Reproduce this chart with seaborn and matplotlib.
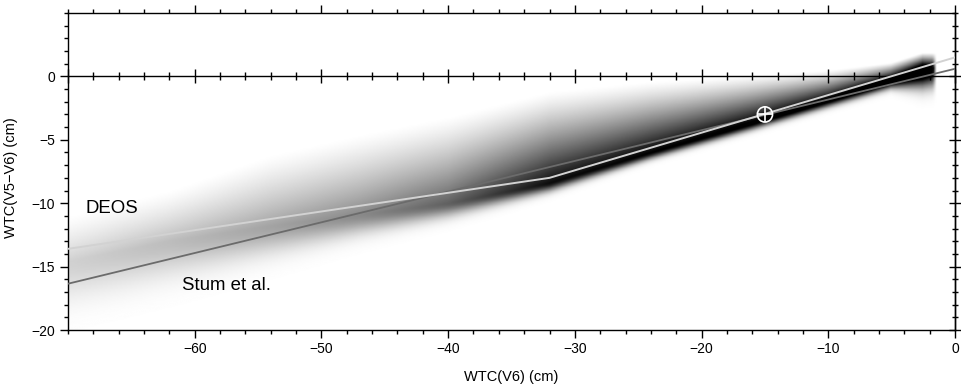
import numpy as np
import matplotlib
matplotlib.use("Agg")
import matplotlib.pyplot as plt
from matplotlib.ticker import MultipleLocator, FixedLocator
import seaborn as sns

# ---------------- data ----------------
# density cloud, described column-wise at knots along WTC(V6)
cloud_x     = [-70, -62, -54, -47, -40, -32, -24, -16, -10, -5, -2.5, -1.5]
cloud_top   = [-11.0, -9.0, -6.2, -4.6, -3.2, -1.2, -0.4, 0.1, 0.5, 1.1, 1.9, 1.9]
cloud_ridge = [-14.6, -13.0, -11.8, -10.9, -10.0, -8.4, -6.0, -3.7, -1.9, -0.3, 0.6, 0.7]
cloud_sig   = [2.0, 1.8, 1.4, 1.0, 0.7, 0.45, 0.35, 0.35, 0.35, 0.4, 0.9, 0.9]
cloud_peak  = [0.18, 0.26, 0.36, 0.46, 0.62, 0.95, 1.0, 1.05, 1.1, 1.3, 1.5, 1.2]
cloud_end   = -1.4

# model lines
deos_x = [-70, -32, 0]
deos_y = [-13.6, -8.0, 1.5]
stum_x = [-70, 0]
stum_y = [-16.35, 0.6]

# reference point
ref_x = [-15]
ref_y = [-3]

x_major = [-60, -50, -40, -30, -20, -10, 0]
y_major = [-20, -15, -10, -5, 0]

# ---------------- figure ----------------
sns.set_theme(style="white")
plt.rcParams["font.family"] = ["Liberation Sans", "DejaVu Sans"]
plt.rcParams["axes.unicode_minus"] = True

fig = plt.figure(figsize=(9.61, 3.86), dpi=100)
ax = fig.add_axes([68 / 961, 56 / 386, 887 / 961, 317 / 386])
ax.set_xlim(-70, 0)
ax.set_ylim(-20, 5)

# density image
gx = np.linspace(-70, 0, 561)
gy = np.linspace(-20, 5, 401)
top = np.interp(gx, cloud_x, cloud_top)
ridge = np.interp(gx, cloud_x, cloud_ridge)
sig = np.interp(gx, cloud_x, cloud_sig)
peak = np.interp(gx, cloud_x, cloud_peak)
Y = gy[:, None]
s = np.clip((Y - ridge[None, :]) / (top - ridge)[None, :], 0, 1)
above = peak[None, :] * (1 - s) ** 1.25
below = peak[None, :] * np.exp(-0.5 * ((ridge[None, :] - Y) / sig[None, :]) ** 2)
dens = np.where(Y >= ridge[None, :], above, below)
endfade = np.clip((cloud_end - gx) / 0.3, 0, 1)
dens = np.clip(dens * endfade[None, :], 0, 1)
ax.imshow(dens, extent=[-70, 0, -20, 5], origin="lower", aspect="auto",
          cmap="gray_r", vmin=0, vmax=1, interpolation="bilinear", zorder=0)

# lines
sns.lineplot(x=stum_x, y=stum_y, color="#6b6b6b", lw=1.3, ax=ax, zorder=3)
sns.lineplot(x=deos_x, y=deos_y, color="#d2d2d2", lw=1.4, ax=ax, zorder=4)

# reference marker
sns.scatterplot(x=ref_x, y=ref_y, marker="o", s=120, facecolors="none",
                edgecolors="white", linewidths=1.2, ax=ax, zorder=5)
sns.scatterplot(x=ref_x, y=ref_y, marker="+", s=120, color="white",
                linewidths=1.2, ax=ax, zorder=5)

# annotations
ax.text(-68.6, -10.8, "DEOS", fontsize=13.4, color="black", ha="left", va="baseline")
ax.text(-61.0, -16.85, "Stum et al.", fontsize=13.4, color="black", ha="left", va="baseline")

# ticks and spines
for sp in ax.spines.values():
    sp.set_color("black")
    sp.set_linewidth(1.0)
    sp.set_visible(True)

ax.xaxis.set_major_locator(FixedLocator(x_major))
ax.xaxis.set_minor_locator(MultipleLocator(2))
ax.yaxis.set_major_locator(FixedLocator(y_major))
ax.yaxis.set_minor_locator(MultipleLocator(1))
ax.tick_params(axis="x", which="both", direction="out", bottom=True, top=True,
               labelsize=10, colors="black", width=1.0, pad=3)
ax.tick_params(axis="x", which="major", length=5.5)
ax.tick_params(axis="x", which="minor", length=3.2)
ax.tick_params(axis="y", which="both", direction="out", left=True, right=False,
               labelsize=10, colors="black", width=1.0, pad=4)
ax.tick_params(axis="y", which="major", length=5.5)
ax.tick_params(axis="y", which="minor", length=3.2)

# right axis ticks (in-out)
secy = ax.secondary_yaxis("right")
secy.yaxis.set_major_locator(FixedLocator(y_major))
secy.yaxis.set_minor_locator(MultipleLocator(1))
secy.tick_params(which="both", direction="inout", labelright=False, width=1.0, colors="black")
secy.tick_params(which="major", length=8)
secy.tick_params(which="minor", length=5)
for sp in secy.spines.values():
    sp.set_linewidth(1.0)
    sp.set_color("black")

# zero line with crossing ticks
secx = ax.secondary_xaxis(0.8)
secx.xaxis.set_major_locator(FixedLocator([-70] + x_major))
secx.xaxis.set_minor_locator(MultipleLocator(2))
secx.tick_params(which="both", direction="inout", labeltop=False, labelbottom=False,
                 width=1.0, colors="black")
secx.tick_params(which="major", length=9.5)
secx.tick_params(which="minor", length=5.5)
for sp in secx.spines.values():
    sp.set_linewidth(1.0)
    sp.set_color("black")

ax.set_xlabel("WTC(V6) (cm)", fontsize=10.5, color="black")
ax.set_ylabel("WTC(V5−V6) (cm)", fontsize=10.5, color="black")
ax.xaxis.set_label_coords(0.5, -0.125)
ax.yaxis.set_label_coords(-0.056, 0.48)
ax.grid(False)

fig.savefig("out.png", dpi=100, facecolor="white")
